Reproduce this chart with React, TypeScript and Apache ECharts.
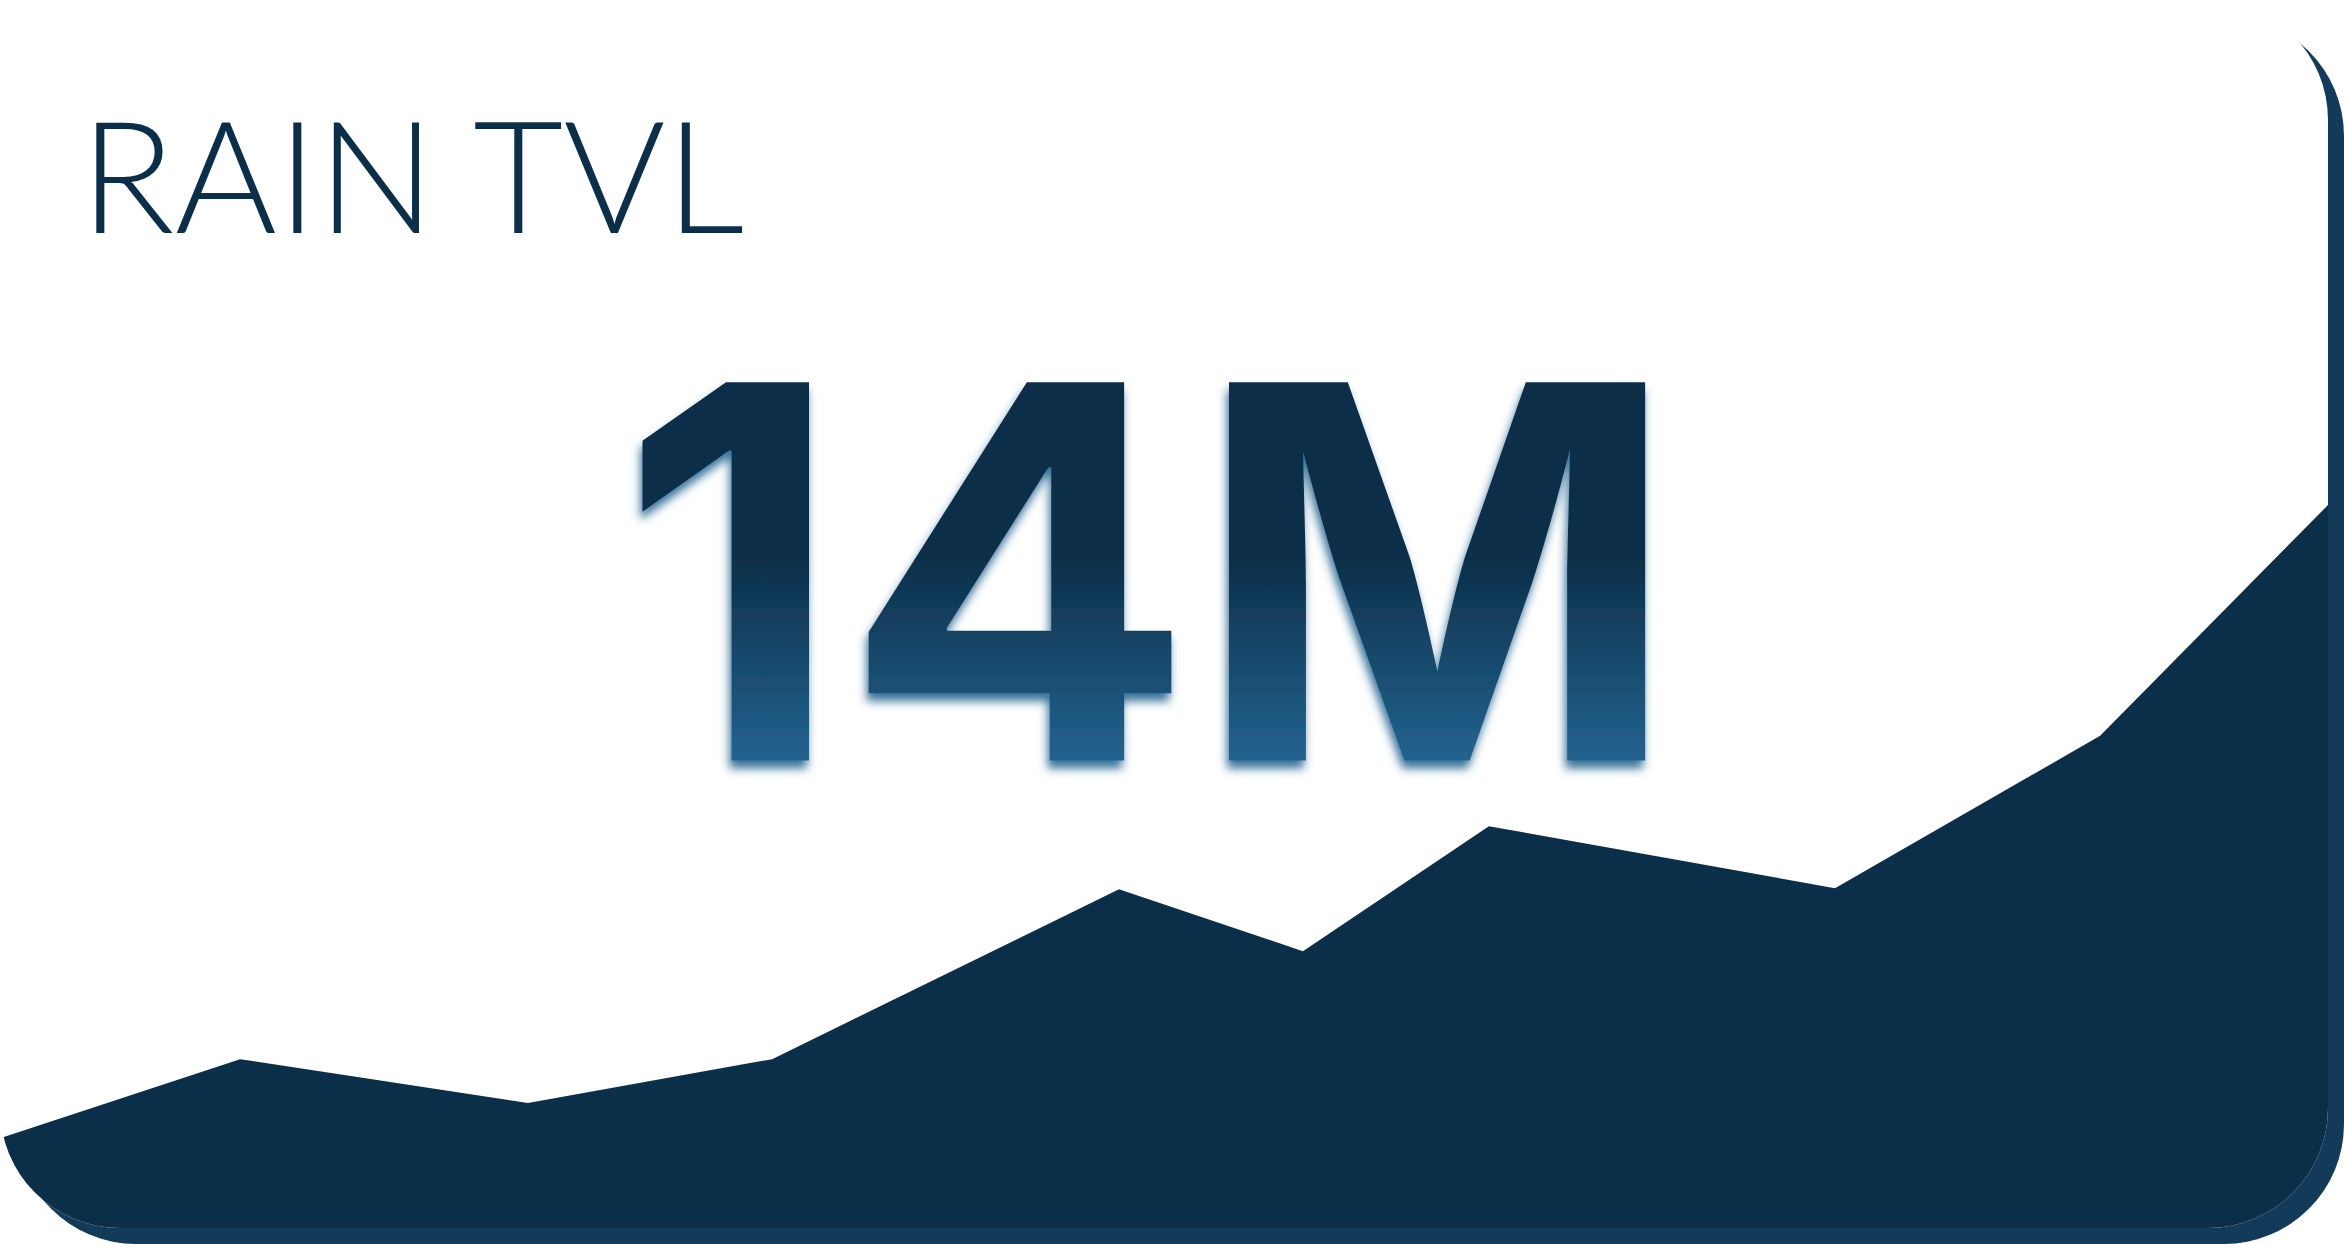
import { useEffect, useRef } from 'react';
import * as echarts from 'echarts';

// TVL history: day index (x) and TVL in millions of USD (y)
const days = [0, 9.28, 20.41, 29.85, 43.26, 50.37, 57.56, 70.94, 81.19, 90];
const tvl = [1.74, 3.27, 2.42, 3.27, 6.56, 5.36, 7.78, 6.58, 9.53, 14.0];

const titleText = 'RAIN TVL';
const headlineText = '14M';

const navy = '#0c2f49';
const edge = '#133a59';

// cap top / baseline of the big number, page pixels
const capTop = 382;
const capBottom = 760;

// zrender turns gradient fills on text into black, so the gradient is
// attached to the rendered <text> node afterwards
const paintHeadline = (root: HTMLElement | null, grad: SVGLinearGradientElement | null) => {
  if (!root || !grad) return;
  root.querySelectorAll('text').forEach((t) => {
    if (t.textContent !== headlineText) return;
    const m = (t as SVGTextElement).transform.baseVal.consolidate();
    const ty = m ? m.matrix.f : 0;
    grad.setAttribute('y1', String(capTop - ty));
    grad.setAttribute('y2', String(capBottom - ty));
    t.setAttribute('fill', 'url(#headline-grad)');
  });
};

const RainTvlCard = () => {
  const chartRef = useRef<HTMLDivElement>(null);
  const gradRef = useRef<SVGLinearGradientElement>(null);

  useEffect(() => {
    if (!chartRef.current) return;

    const chart = echarts.init(chartRef.current, undefined, { renderer: 'svg' });

    const option = {
      animation: false,
      grid: { left: 0, right: 0, top: 505, bottom: 0 },
      xAxis: { type: 'value', min: 0, max: 90, show: false },
      yAxis: { type: 'value', min: 0, max: 14, show: false },
      series: [
        {
          type: 'line',
          data: days.map((d, i) => [d, tvl[i]]),
          symbol: 'none',
          silent: true,
          lineStyle: { width: 0 },
          areaStyle: { color: navy, opacity: 1 },
        },
      ],
      graphic: [
        {
          type: 'text',
          x: 80,
          y: 172,
          style: {
            text: titleText,
            fontFamily: 'Lato',
            fontWeight: 300,
            fontSize: 156,
            fill: navy,
            align: 'left',
            verticalAlign: 'middle',
          },
        },
        {
          type: 'text',
          x: 1149,
          y: 571,
          z: 10,
          style: {
            text: headlineText,
            fontFamily: 'Inter',
            fontWeight: 700,
            fontSize: 520,
            fill: navy,
            align: 'center',
            verticalAlign: 'middle',
            textShadowColor: 'rgba(35, 99, 143, 0.9)',
            textShadowBlur: 10,
            textShadowOffsetX: -2,
            textShadowOffsetY: 8,
          },
        },
      ],
    };

    chart.setOption(option);
    paintHeadline(chartRef.current, gradRef.current);
    chart.on('finished', () => paintHeadline(chartRef.current, gradRef.current));

    const handleResize = () => chart.resize();
    window.addEventListener('resize', handleResize);

    return () => {
      chart.dispose();
      window.removeEventListener('resize', handleResize);
    };
  }, []);

  return (
    <div style={{ position: 'fixed', left: 0, top: 0, width: 2344, height: 1244, background: '#fff' }}>
      <svg width={0} height={0} style={{ position: 'absolute' }}>
        <defs>
          <linearGradient
            id="headline-grad"
            ref={gradRef}
            gradientUnits="userSpaceOnUse"
            x1="0"
            x2="0"
            y1={capTop}
            y2={capBottom}
          >
            <stop offset="0" stopColor="#0c2f49" />
            <stop offset="0.47" stopColor="#0c2f49" />
            <stop offset="1" stopColor="#23638f" />
          </linearGradient>
        </defs>
      </svg>
      <div
        style={{
          position: 'absolute',
          left: 0,
          top: 0,
          width: 2328,
          height: 1228,
          borderRadius: 120,
          overflow: 'hidden',
          background: '#fff',
          boxShadow: `16px 16px 0 0 ${edge}`,
        }}
      >
        <div ref={chartRef} style={{ width: '100%', height: '100%' }} />
      </div>
    </div>
  );
};

export default function App() {
  return <RainTvlCard />;
}
